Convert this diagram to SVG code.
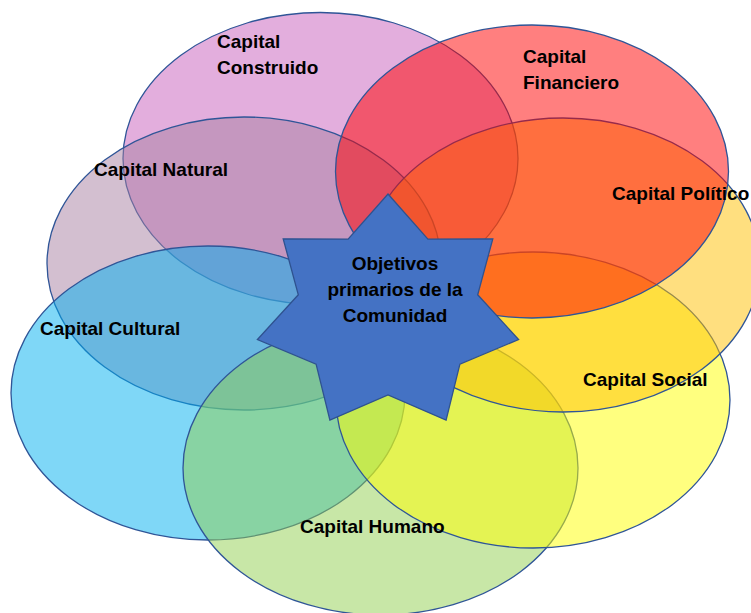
<svg xmlns="http://www.w3.org/2000/svg" width="751" height="613" viewBox="0 0 751 613">
<style>
.cap{stroke:#2F5597;stroke-width:1.3;fill-opacity:0.5}
.lbl{font-family:"Liberation Sans",Arial,sans-serif;font-weight:bold;font-size:19px;fill:#000}
.ctr{text-anchor:middle}
</style>
<rect width="751" height="613" fill="#fff"/>
<g id="capital-construido"><ellipse class="cap" cx="320.5" cy="158.5" rx="197.5" ry="146" fill="#C75DBB"/></g>
<g id="capital-natural"><ellipse class="cap" cx="244" cy="263.5" rx="197" ry="146.5" fill="#A77FA1"/></g>
<g id="capital-cultural"><ellipse class="cap" cx="208" cy="393" rx="197" ry="147" fill="#00B0F0"/></g>
<g id="capital-humano"><ellipse class="cap" cx="380.5" cy="468" rx="197.5" ry="147" fill="#92D050"/></g>
<g id="capital-social"><ellipse class="cap" cx="533" cy="400" rx="197" ry="148" fill="#FFFF00"/></g>
<g id="capital-politico"><ellipse class="cap" cx="563" cy="265" rx="197" ry="147" fill="#FFC000"/></g>
<g id="capital-financiero"><ellipse class="cap" cx="532" cy="171.5" rx="196.5" ry="146.5" fill="#FF0000"/></g>
<g id="objetivos">
<polygon points="388,194 427.9,239.1 492.8,238.8 477.7,294.8 518.6,339.5 459.9,364.1 446.1,420.2 388,395 329.9,420.2 316.1,364.1 257.4,339.5 298.3,294.8 283.2,238.8 348.1,239.1" fill="#4472C4" stroke="#2F528F" stroke-width="1.3" stroke-linejoin="miter"/>
<text class="lbl ctr" x="395" y="270">Objetivos</text>
<text class="lbl ctr" x="395" y="296">primarios de la</text>
<text class="lbl ctr" x="395" y="322">Comunidad</text>
</g>
<g id="labels">
<text id="label-construido" class="lbl" x="217" y="48">Capital<tspan x="217" y="74">Construido</tspan></text>
<text id="label-financiero" class="lbl" x="523" y="63">Capital<tspan x="523" y="89">Financiero</tspan></text>
<text id="label-natural" class="lbl" x="94" y="176">Capital Natural</text>
<text id="label-politico" class="lbl" x="612" y="200">Capital Político</text>
<text id="label-cultural" class="lbl" x="40" y="335">Capital Cultural</text>
<text id="label-social" class="lbl" x="583" y="386">Capital Social</text>
<text id="label-humano" class="lbl" x="300" y="533">Capital Humano</text>
</g>
<g id="connectors"/>
</svg>
